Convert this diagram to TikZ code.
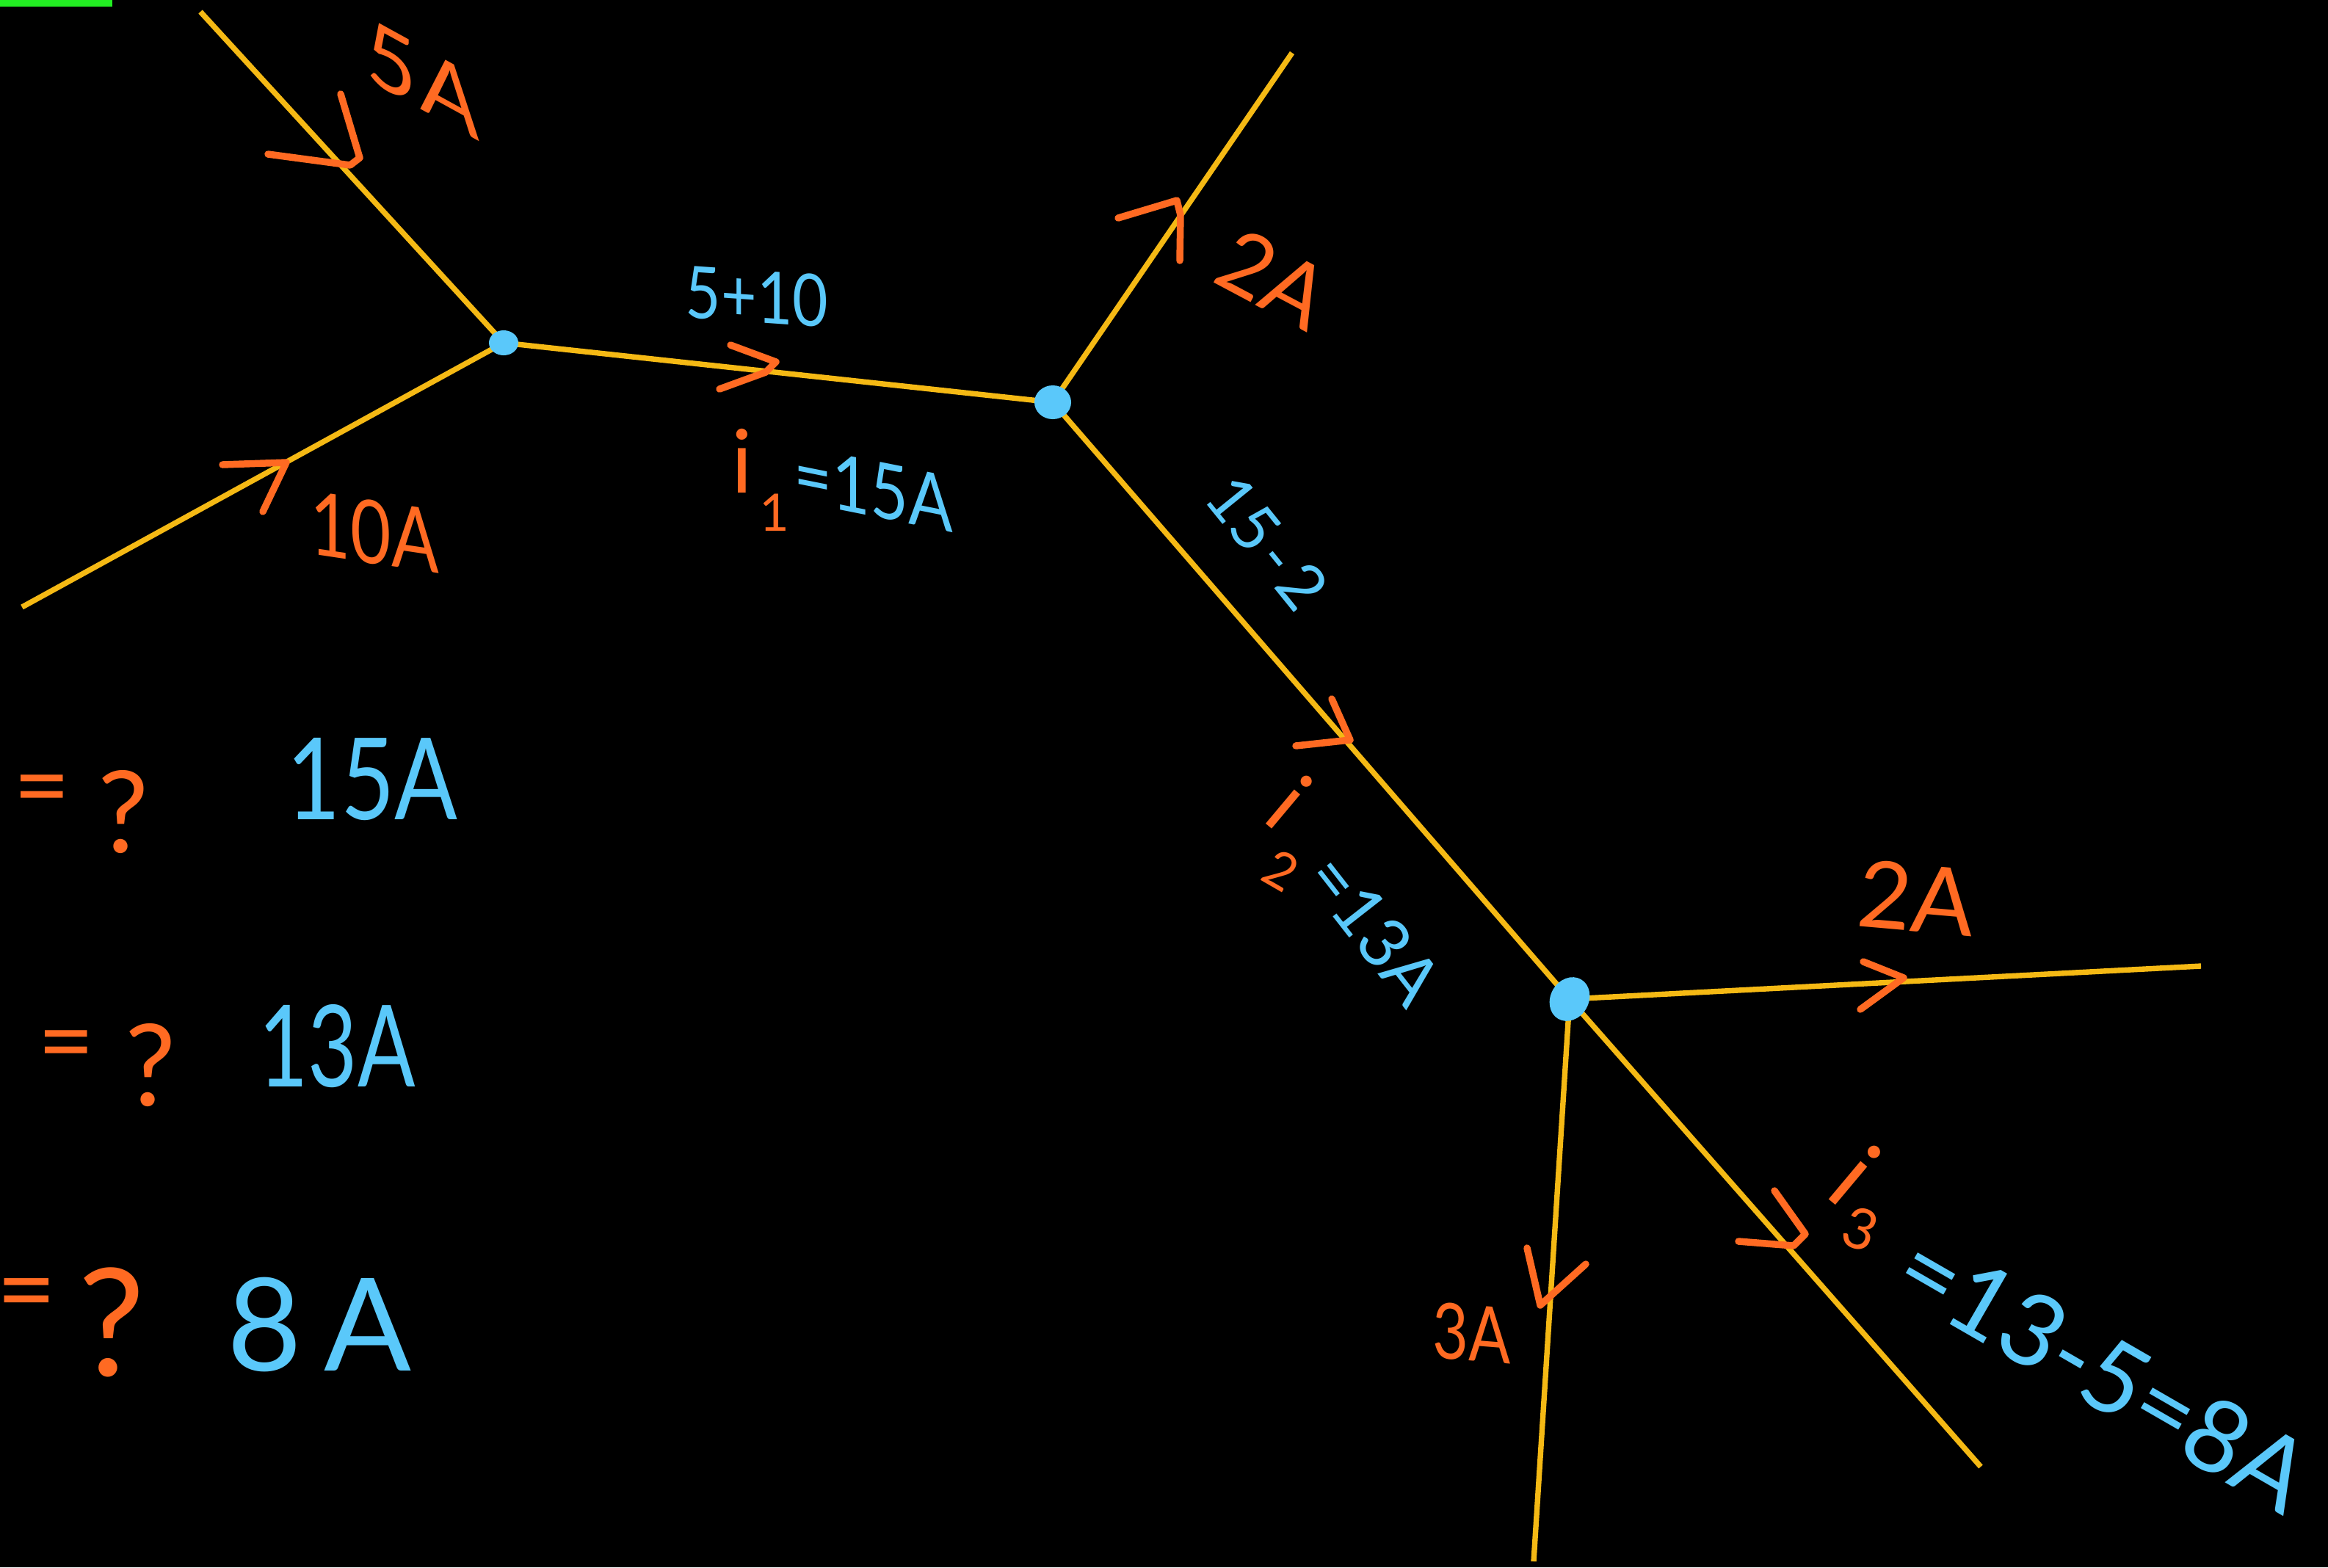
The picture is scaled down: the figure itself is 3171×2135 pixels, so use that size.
\documentclass[tikz,border=0pt]{standalone}
\usepackage{fontspec}
\setmainfont{Lato}
\usepackage{graphicx}
\usetikzlibrary{shapes.geometric}
\definecolor{wirec}{HTML}{F5B914}
\definecolor{orng}{HTML}{FF6A22}
\definecolor{sky}{HTML}{5AC8FA}
\definecolor{grn}{HTML}{22EE22}
\newcommand\fsz[1]{\fontsize{#1}{#1}\selectfont}
\newcommand\hsc[2]{\scalebox{#1}[1]{#2}}
\begin{document}
\begin{tikzpicture}[x=0.01cm,y=-0.01cm,
  wire/.style={draw=wirec,line width=2.1pt},
  chev/.style={draw=orng,line width=2.7pt,line cap=round,line join=round},
  dot/.style={ellipse,fill=sky,inner sep=0pt},
  olab/.style={text=orng,inner sep=0pt},
  blab/.style={text=sky,inner sep=0pt}]
\fill[black] (0,0) rectangle (3171,2135);
\useasboundingbox (0,0) rectangle (3171,2135);
\fill[grn] (0,0) rectangle (153,9);
% points
\coordinate (pA) at (273,16);
\coordinate (pB) at (30,827);
\coordinate (j1) at (686,467);
\coordinate (j2) at (1434,548);
\coordinate (pC) at (1760,72);
\coordinate (j3) at (2138,1361);
\coordinate (pD) at (2998,1316);
\coordinate (pE) at (2089,2127);
\coordinate (pF) at (2698,1998);
% wires
\draw[wire] (pA) -- (j1);
\draw[wire] (pB) -- (j1);
\draw[wire] (j1) -- (j2);
\draw[wire] (j2) -- (pC);
\draw[wire] (j2) -- (j3);
\draw[wire] (j3) -- (pD);
\draw[wire] (j3) -- (pE);
\draw[wire] (j3) -- (pF);
% junction dots
\node[dot,minimum width=0.40cm,minimum height=0.34cm] (n1) at (j1) {};
\node[dot,minimum width=0.50cm,minimum height=0.46cm] (n2) at (j2) {};
\node[dot,minimum width=0.52cm,minimum height=0.62cm,rotate=-30] (n3) at (j3) {};
% arrow chevrons
\draw[chev] (365,210) -- (477,225) -- (490,215) -- (464,128);
\draw[chev] (303,633) -- (390,630) -- (358,697);
\draw[chev] (995,470) -- (1057,493) -- (1043,507) -- (980,530);
\draw[chev] (1523,297) -- (1603,273) -- (1608,293) -- (1607,355);
\draw[chev] (1814,952) -- (1839,1008) -- (1765,1016);
\draw[chev] (2538,1310) -- (2593,1332) -- (2534,1375);
\draw[chev] (2080,1700) -- (2098,1778) -- (2160,1722);
\draw[chev] (2368,1691) -- (2443,1697) -- (2459,1681) -- (2417,1622);
% orange labels
\node[olab,yslant=-0.55] (l5A) at (576,108) {\fsz{34}5\hspace{0.04em}A};
\node[olab,yslant=-0.15] (l10A) at (510,725) {\fsz{34}\hsc{0.8}{10A}};
\node[olab,rotate=-28] (l2Aa) at (1735,380) {\fsz{34}2A};
\node[olab,rotate=-5] (l2Ab) at (2611,1223) {\fsz{36}2A};
\node[olab,yslant=-0.08] (l3A) at (2005,1816) {\fsz{30}\hsc{0.8}{3A}};
\node[olab] (i1) at (1011,628) {\fsz{34}i};
\node[olab] (s1) at (1055,698) {\fsz{20}1};
\node[olab,rotate=-40] (i2) at (1757,1092) {\fsz{34}i};
\node[olab,rotate=-30] (s2) at (1745,1186) {\fsz{20}2};
\node[olab,rotate=-40] (i3) at (2527,1600) {\fsz{38}i};
\node[olab,rotate=-20] (s3) at (2534,1674) {\fsz{22}3};
\node[olab] (e1) at (57,1086) {\fsz{38}=};
\node[olab] (q1) at (168,1106) {\fsz{44}?};
\node[olab] (e2) at (90,1434) {\fsz{38}=};
\node[olab] (q2) at (205,1451) {\fsz{44}?};
\node[olab] (e3) at (36,1774) {\fsz{40}=};
\node[olab] (q3) at (152,1801) {\fsz{58}?};
% blue labels
\node[blab,yslant=-0.07] (b510) at (1031,404) {\fsz{28}\hsc{0.85}{5+10}};
\node[blab,yslant=-0.2] (b15) at (1190,666) {\fsz{30}\hsc{0.85}{=15A}};
\node[blab,rotate=-51] (b152) at (1726,739) {\fsz{25}15\hspace{0.1em}-\hspace{0.1em}2};
\node[blab,rotate=-52] (b13) at (1872,1266) {\fsz{27}=13A};
\node[blab,rotate=-30] (b8) at (2866,1868) {\fsz{39}=13-5=8A};
\node[blab] (r1) at (507,1062) {\fsz{44}\hsc{0.82}{15A}};
\node[blab] (r2) at (459,1425) {\fsz{44}\hsc{0.75}{13A}};
\node[blab] (r3) at (435,1804) {\fsz{50}8\,A};
\end{tikzpicture}
\end{document}
